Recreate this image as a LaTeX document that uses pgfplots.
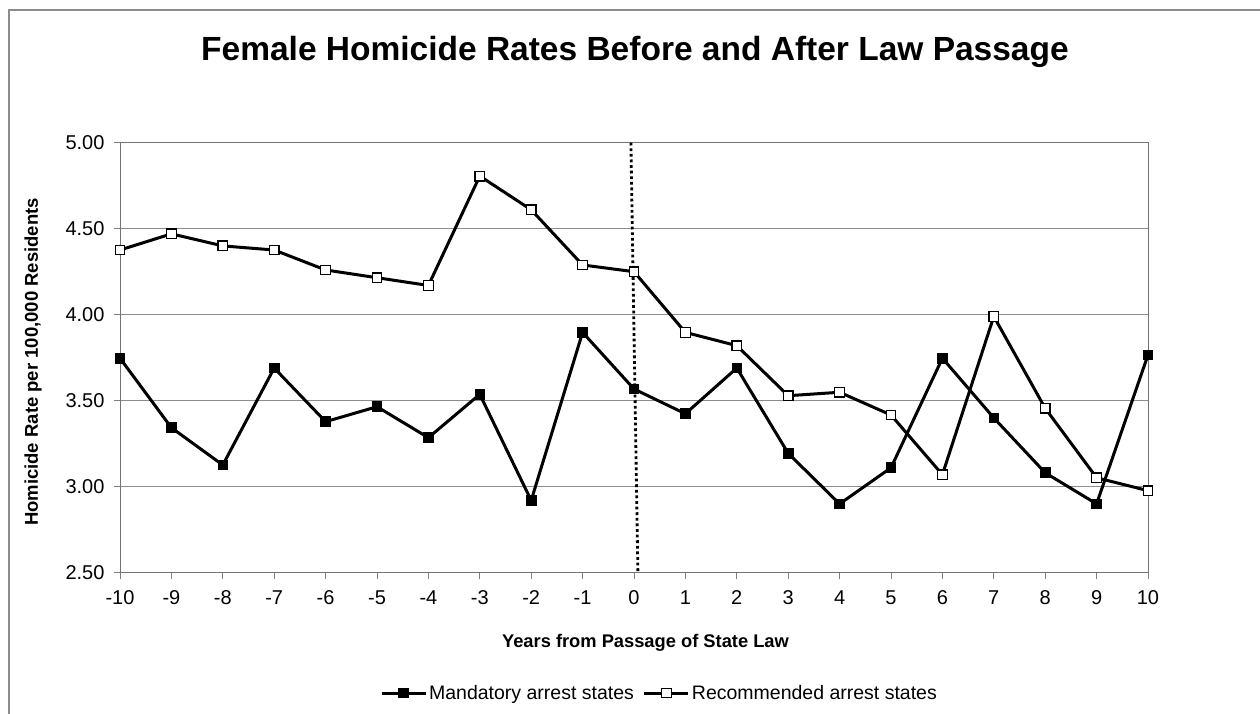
\documentclass[border=0pt]{standalone}
\usepackage{pgfplots}
\pgfplotsset{compat=1.18}
\usepackage{fontspec}
\setmainfont{Liberation Sans}
\begin{document}
\begin{tikzpicture}[x=1pt,y=1pt]
\useasboundingbox (0,0) rectangle (1260,714);
\fill[white] (0,0) rectangle (1260,714);
\draw[black!45, line width=1.2pt] (9,-20) -- (9,704) -- (1290,704);
\node[anchor=base, font=\fontsize{33.5}{38}\selectfont\bfseries] at (635,653) {Female Homicide Rates Before and After Law Passage};
\node[rotate=90, font=\fontsize{18.5}{22}\selectfont\bfseries] at (33,352) {Homicide Rate per 100,000 Residents};
\node[font=\fontsize{18.3}{22}\selectfont\bfseries] at (645.5,71) {Years from Passage of State Law};
\begin{axis}[
  at={(120pt,141.3pt)}, anchor=south west,
  scale only axis, width=1028pt, height=430pt,
  xmin=-10, xmax=10, ymin=2.5, ymax=5,
  xtick={-10,...,10}, ytick={2.5,3,...,5},
  xtick pos=bottom, ytick pos=left,
  tick align=outside, major tick length=6pt,
  every tick/.style={black!50, line width=0.9pt},
  axis line style={black!55, line width=1pt},
  ymajorgrids, grid style={black!45, line width=0.9pt},
  y tick label style={/pgf/number format/fixed, /pgf/number format/fixed zerofill, /pgf/number format/precision=2},
  /pgf/number format/assume math mode=true,
  tick label style={font=\fontsize{20}{24}\selectfont},
  xticklabel style={yshift=-8pt, text height=14.5pt, text depth=0pt},
  yticklabel style={xshift=-6pt},
  clip=false,
  legend columns=2,
  legend style={at={(0.5248,-0.2798)}, anchor=center, draw=none, fill=none,
    font=\fontsize{19.5}{23}\selectfont,
    /tikz/every even column/.append style={column sep=7pt}},
  legend image code/.code={\draw[mark repeat=2,mark phase=2,#1] plot coordinates {(0pt,0pt) (22pt,0pt) (44pt,0pt)};},
]
\addplot[black, line width=2.8pt, dash pattern=on 2.8pt off 2.8pt, forget plot] coordinates {(-0.06,5) (0.076,2.5)};
\addplot[black, line width=3pt, mark=square*, mark size=4.8pt, mark options={solid, fill=black, line width=1pt}]
coordinates {
(-10,3.747) (-9,3.343) (-8,3.126) (-7,3.69) (-6,3.378) (-5,3.465) (-4,3.285) (-3,3.537) (-2,2.92) (-1,3.897)
(0,3.568) (1,3.424) (2,3.69) (3,3.194) (4,2.90) (5,3.11) (6,3.747) (7,3.40) (8,3.081) (9,2.90) (10,3.766)
};
\addlegendentry{Mandatory arrest states}
\addplot[black, line width=3pt, mark=square*, mark size=4.8pt, mark options={solid, fill=white, line width=1.3pt}]
coordinates {
(-10,4.376) (-9,4.47) (-8,4.40) (-7,4.376) (-6,4.26) (-5,4.215) (-4,4.17) (-3,4.806) (-2,4.61) (-1,4.289)
(0,4.25) (1,3.897) (2,3.82) (3,3.529) (4,3.549) (5,3.417) (6,3.07) (7,3.99) (8,3.456) (9,3.052) (10,2.977)
};
\addlegendentry{Recommended arrest states}
\end{axis}
\end{tikzpicture}
\end{document}
